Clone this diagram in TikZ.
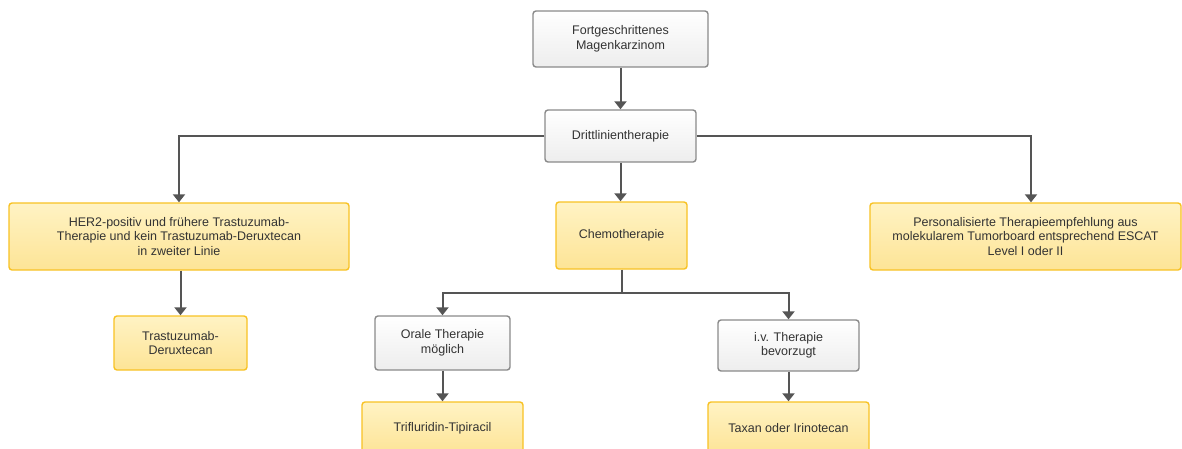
\documentclass[tikz,border=0pt]{standalone}
\usepackage{fontspec}
\setmainfont{Liberation Sans}
\usetikzlibrary{arrows.meta}
\definecolor{txt}{HTML}{333333}
\definecolor{gborder}{HTML}{8A8A8A}
\definecolor{ytop}{HTML}{FFF3C4}
\definecolor{ybot}{HTML}{FDE496}
\definecolor{yborder}{HTML}{F8C224}
\definecolor{lnk}{HTML}{555555}
\tikzset{
  box/.style={rounded corners=3pt, line width=1.4pt, align=center, text=txt,
    font=\fontsize{12.5}{14.5}\selectfont, inner sep=0pt},
  graybox/.style={box, draw=gborder, top color=white, bottom color=black!7},
  yellowbox/.style={box, draw=yborder, top color=ytop, bottom color=ybot},
  link/.style={draw=lnk, line width=2pt, -{Triangle[length=8pt,width=12pt]}},
  plain/.style={draw=lnk, line width=2pt},
}
\begin{document}
\begin{tikzpicture}[x=1pt,y=-1pt]
\useasboundingbox (0,0) rectangle (1182,448);
\node[graybox, minimum width=175pt, minimum height=56pt] (top) at (620.5,39) {Fortgeschrittenes\\Magenkarzinom};
\node[graybox, minimum width=151pt, minimum height=52pt] (dritt) at (620.5,136) {Drittlinientherapie};
\node[yellowbox, minimum width=340pt, minimum height=67pt] (her2) at (179,236.5) {HER2-positiv und frühere Trastuzumab-\\Therapie und kein Trastuzumab-Deruxtecan\\in zweiter Linie};
\node[yellowbox, minimum width=131pt, minimum height=67pt] (chemo) at (621.5,235.5) {Chemotherapie};
\node[yellowbox, minimum width=311pt, minimum height=67pt] (pers) at (1025.5,236.5) {Personalisierte Therapieempfehlung aus\\molekularem Tumorboard entsprechend ESCAT\\Level I oder II};
\node[yellowbox, minimum width=133pt, minimum height=54pt] (tdx) at (180.5,343) {Trastuzumab-\\Deruxtecan};
\node[graybox, minimum width=135pt, minimum height=54pt] (oral) at (442.5,343) {Orale Therapie\\möglich};
\node[graybox, minimum width=141pt, minimum height=51pt] (iv) at (788.5,345.5) {i.v. Therapie\\bevorzugt};
\node[yellowbox, minimum width=161pt, minimum height=52pt] (tri) at (442.5,428) {Trifluridin-Tipiracil};
\node[yellowbox, minimum width=161pt, minimum height=52pt] (tax) at (788.5,428) {Taxan oder Irinotecan};
\coordinate (split) at (622,293);
\coordinate (persin) at ([xshift=5.5pt]pers.north);
\draw[link] (top.south) -- (dritt.north);
\draw[link] (dritt.west) -| (her2.north);
\draw[link] (dritt.east) -| (persin);
\draw[link] (dritt.south) -- (dritt.south |- chemo.north);
\draw[plain] (chemo.south -| split) -- (split);
\draw[link] (split) -| (oral.north);
\draw[link] (split) -| (iv.north);
\draw[link] (her2.south -| tdx.north) -- (tdx.north);
\draw[link] (oral.south) -- (tri.north);
\draw[link] (iv.south) -- (tax.north);
\end{tikzpicture}
\end{document}
